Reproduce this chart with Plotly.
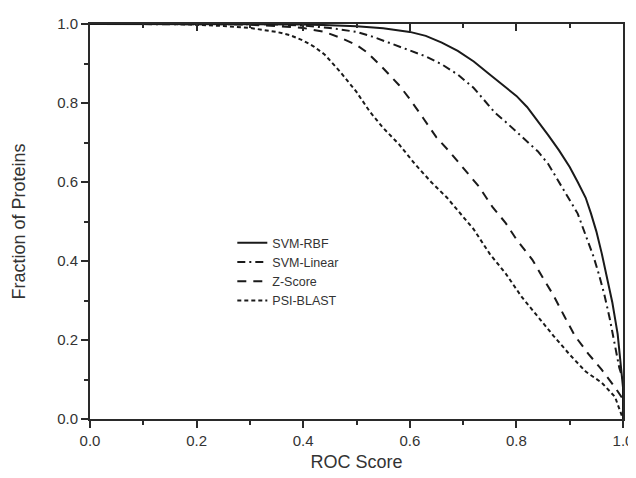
import plotly.graph_objects as go

# ---- data ----
rbf_x = [0, 0.35, 0.4, 0.45, 0.5, 0.55, 0.6, 0.63, 0.66, 0.69, 0.72, 0.75, 0.78, 0.8, 0.82, 0.84, 0.86, 0.88,
         0.9, 0.915, 0.93, 0.94, 0.95, 0.96, 0.97, 0.98, 0.99, 0.995, 0.998, 1.0, 1.0]
rbf_y = [1.0, 1.0, 0.999, 0.997, 0.994, 0.989, 0.98, 0.97, 0.953, 0.932, 0.905, 0.872, 0.84, 0.818, 0.79, 0.755,
         0.718, 0.68, 0.638, 0.6, 0.56, 0.52, 0.475, 0.42, 0.36, 0.295, 0.215, 0.15, 0.11, 0.08, 0.0]

lin_x = [0, 0.3, 0.35, 0.4, 0.45, 0.5, 0.53, 0.56, 0.6, 0.63, 0.66, 0.69, 0.72, 0.74, 0.76, 0.78, 0.8, 0.82,
         0.84, 0.86, 0.88, 0.9, 0.915, 0.93, 0.945, 0.955, 0.965, 0.975, 0.985, 0.993, 1.0, 1.0]
lin_y = [1.0, 1.0, 0.999, 0.996, 0.99, 0.98, 0.968, 0.953, 0.934, 0.918, 0.898, 0.872, 0.838, 0.805, 0.775,
         0.752, 0.728, 0.704, 0.678, 0.645, 0.6, 0.555, 0.52, 0.465, 0.41, 0.365, 0.315, 0.255, 0.19, 0.13, 0.1, 0.0]

z_x = [0, 0.25, 0.3, 0.35, 0.4, 0.44, 0.47, 0.5, 0.52, 0.55, 0.58, 0.6, 0.625, 0.65, 0.675, 0.7, 0.73, 0.755,
       0.78, 0.8, 0.83, 0.85, 0.87, 0.89, 0.91, 0.935, 0.96, 0.985, 1.0, 1.0]
z_y = [1.0, 1.0, 0.998, 0.995, 0.99, 0.98, 0.965, 0.947, 0.928, 0.888, 0.845, 0.81, 0.762, 0.713, 0.676, 0.636,
       0.588, 0.537, 0.496, 0.455, 0.403, 0.357, 0.312, 0.26, 0.21, 0.165, 0.125, 0.08, 0.05, 0.0]

psi_x = [0, 0.15, 0.2, 0.25, 0.3, 0.35, 0.375, 0.4, 0.42, 0.44, 0.47, 0.5, 0.525, 0.55, 0.58, 0.61, 0.64, 0.67,
         0.69, 0.72, 0.75, 0.78, 0.81, 0.84, 0.87, 0.9, 0.93, 0.96, 0.985, 1.0]
psi_y = [1.0, 1.0, 0.998, 0.995, 0.99, 0.98, 0.972, 0.958, 0.943, 0.923, 0.878, 0.828, 0.778, 0.737, 0.695, 0.645,
         0.6, 0.56, 0.528, 0.48, 0.418, 0.368, 0.309, 0.258, 0.21, 0.163, 0.12, 0.092, 0.056, 0.0]

series_names = ["SVM-RBF", "SVM-Linear", "Z-Score", "PSI-BLAST"]
tick_vals = [0.0, 0.2, 0.4, 0.6, 0.8, 1.0]
tick_text = ["0.0", "0.2", "0.4", "0.6", "0.8", "1.0"]

INK = "#1a1a1a"
AX = "#2a2a2a"
FONT = "Liberation Sans, Arial, sans-serif"

fig = go.Figure()
styles = [
    (rbf_x, rbf_y, "solid"),
    (lin_x, lin_y, "8px,4px,2px,4px"),
    (z_x, z_y, "9px,7px"),
    (psi_x, psi_y, "4px,3px"),
]
for name, (xs, ys, dash) in zip(series_names, styles):
    fig.add_trace(go.Scatter(x=xs, y=ys, mode="lines", name=name,
                             line=dict(color=INK, width=2, dash=dash)))

# invisible trace on top axis for inward ticks
fig.add_trace(go.Scatter(x=[0, 1], y=[0, 0], xaxis="x2", mode="lines",
                         line=dict(width=0), showlegend=False, hoverinfo="skip"))

axis_common = dict(
    range=[0, 1], showgrid=False, zeroline=False, automargin=False,
    linecolor=AX, linewidth=2,
    tickfont=dict(family=FONT, size=15, color="#333"),
    tickcolor=AX, tickwidth=1.5,
)

# the page body adds an 8px offset, so the figure is sized to fit the 636x478 window
fig.update_layout(
    width=628, height=470,
    margin=dict(l=82, r=13, t=16, b=59, autoexpand=False),
    paper_bgcolor="white", plot_bgcolor="white",
    font=dict(family=FONT, color="#333"),
    xaxis=dict(**axis_common, mirror=True, ticks="outside", ticklen=7,
               tickvals=tick_vals, ticktext=tick_text,
               minor=dict(dtick=0.1, ticks="outside", ticklen=4, tickcolor=AX),
               title=dict(text="ROC Score", font=dict(family=FONT, size=18, color="#333"), standoff=7)),
    xaxis2=dict(range=[0, 1], overlaying="x", side="top", showgrid=False, zeroline=False, automargin=False,
                showticklabels=False, ticks="inside", ticklen=7, tickcolor=AX, tickwidth=1.5,
                dtick=0.2, tick0=0, showline=False,
                minor=dict(dtick=0.1, ticks="inside", ticklen=4, tickcolor=AX)),
    yaxis=dict(**axis_common, mirror=True, ticks="outside", ticklen=7,
               tickvals=tick_vals, ticktext=tick_text,
               minor=dict(dtick=0.1, ticks="outside", ticklen=4, tickcolor=AX),
               title=dict(text="Fraction of Proteins", font=dict(family=FONT, size=18, color="#333"), standoff=27)),
    legend=dict(x=0.267, y=0.4835, xanchor="left", yanchor="top",
                bgcolor="rgba(0,0,0,0)", borderwidth=0,
                font=dict(family=FONT, size=12.5, color="#333"),
                tracegroupgap=0, itemwidth=30),
    showlegend=True,
)

fig.write_html("out.html")
